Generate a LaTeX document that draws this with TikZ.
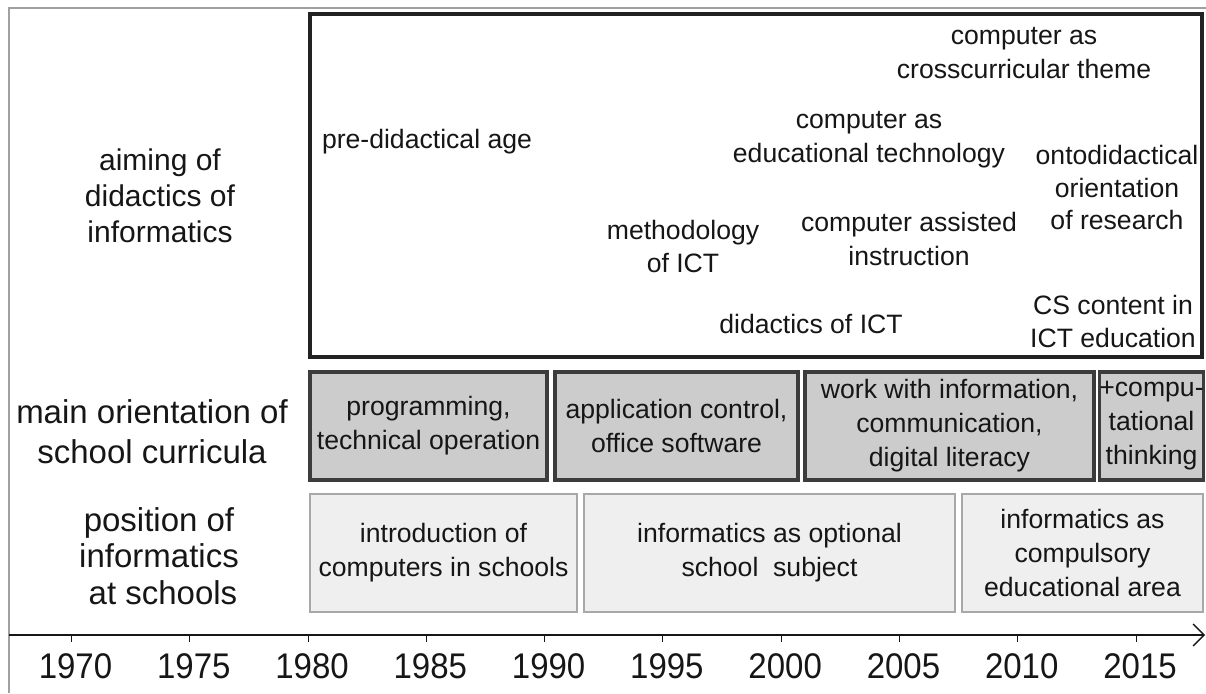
\documentclass[tikz,border=0pt]{standalone}
\usepackage{fontspec}
\setmainfont{Liberation Sans}
\usetikzlibrary{arrows.meta}
\definecolor{framegray}{HTML}{A0A0A0}
\definecolor{mainborder}{HTML}{222222}
\definecolor{darkfill}{HTML}{CCCCCC}
\definecolor{darkborder}{HTML}{3C3C3C}
\definecolor{lightfill}{HTML}{EFEFEF}
\definecolor{lightborder}{HTML}{A8A8A8}
\definecolor{ink}{HTML}{161616}
\begin{document}
\begin{tikzpicture}[x=1pt,y=-1pt,
  every node/.style={inner sep=0pt, outer sep=0pt, text=ink},
  txt/.style={font=\fontsize{26.6}{34}\selectfont, align=center},
  sidelabel/.style={font=\fontsize{33}{38}\selectfont, align=center},
  yearlabel/.style={font=\fontsize{33}{38}\selectfont, anchor=base},
  mainbox/.style={draw=mainborder, line width=3.2pt, fill=white},
  currbox/.style={draw=darkborder, line width=3.2pt, fill=darkfill, txt},
  posbox/.style={draw=lightborder, line width=2.6pt, fill=lightfill, txt},
  framing/.style={draw=framegray, line width=1.2pt},
  axisline/.style={draw=ink, line width=1.4pt},
  tickmark/.style={draw=ink, line width=0.9pt}
]
\useasboundingbox (0,0) rectangle (1206,693);

% outer frame (open at right and bottom)
\draw[framing] (9,693) -- (9,8) -- (1206,8);

% row labels
\node[sidelabel, font=\fontsize{30}{36}\selectfont] (lblaim) at (160,196)
  {aiming of\\didactics of\\informatics};
\node[sidelabel, font=\fontsize{33}{40}\selectfont] (lblcurr) at (152,432)
  {main orientation of\\school curricula};
\node[sidelabel, font=\fontsize{33}{36.5}\selectfont] (lblpos) at (159,556)
  {position of\\informatics\\\hspace*{8pt}at schools};

% aiming of didactics of informatics
\node[mainbox, minimum width=892pt, minimum height=343pt] (aim) at (756,185.5) {};
\node[txt, anchor=base west] (predid) at (322,148) {pre-didactical age};
\node[txt] (cross) at (1024,53.5) {computer as\\crosscurricular theme};
\node[txt] (edutech) at (869,139.5) {computer as\\educational technology};
\node[txt, font=\fontsize{26.6}{32.5}\selectfont] (onto) at (1117,187.5)
  {ontodidactical\\orientation\\of research};
\node[txt, font=\fontsize{26.6}{33}\selectfont] (method) at (683,246.5) {methodology\\of ICT};
\node[txt] (cai) at (909,239) {computer assisted\\instruction};
\node[txt, anchor=base] (didict) at (811,333) {didactics of ICT};
\node[txt, font=\fontsize{26.6}{33}\selectfont] (cscont) at (1113,321.5) {CS content in\\ICT education};

% main orientation of school curricula
\node[currbox, minimum width=237pt, minimum height=108pt] (prog) at (428.5,426)
  {programming,\\technical operation};
\node[currbox, minimum width=243pt, minimum height=108pt] (appl) at (676.5,426)
  {application control,\\office software};
\node[currbox, minimum width=289pt, minimum height=108pt] (info) at (949.5,426)
  {work with information,\\communication,\\digital literacy};
\node[currbox, minimum width=101pt, minimum height=108pt] (comp) at (1151.5,426)
  {+compu-\\tational\\thinking};

% position of informatics at schools
\node[posbox, minimum width=267pt, minimum height=118pt] (intro) at (443.5,553)
  {introduction of\\computers in schools};
\node[posbox, minimum width=371pt, minimum height=118pt] (optional) at (769.5,553)
  {informatics as optional\\school\ \ subject};
\node[posbox, minimum width=241pt, minimum height=118pt] (compulsory) at (1082.5,553)
  {informatics as\\compulsory\\educational area};

% time axis
\coordinate (axisstart) at (9,635);
\coordinate (axisend) at (1205,635);
\draw[axisline, -{Straight Barb[length=11pt, width=22pt, line width=1.3pt]}]
  (axisstart) -- (axisend);
\foreach \i/\yr in {0/1970,1/1975,2/1980,3/1985,4/1990,5/1995,6/2000,7/2005,8/2010,9/2015}{
  \pgfmathsetmacro{\tx}{71.5+118.28*\i}
  \coordinate (tick\i) at (\tx,635);
  \draw[tickmark] (tick\i) -- ++(0,7);
  \node[yearlabel] (yr\i) at (\tx+4,678) {\scalebox{1}[1.08]{\yr}};
}
\end{tikzpicture}
\end{document}
